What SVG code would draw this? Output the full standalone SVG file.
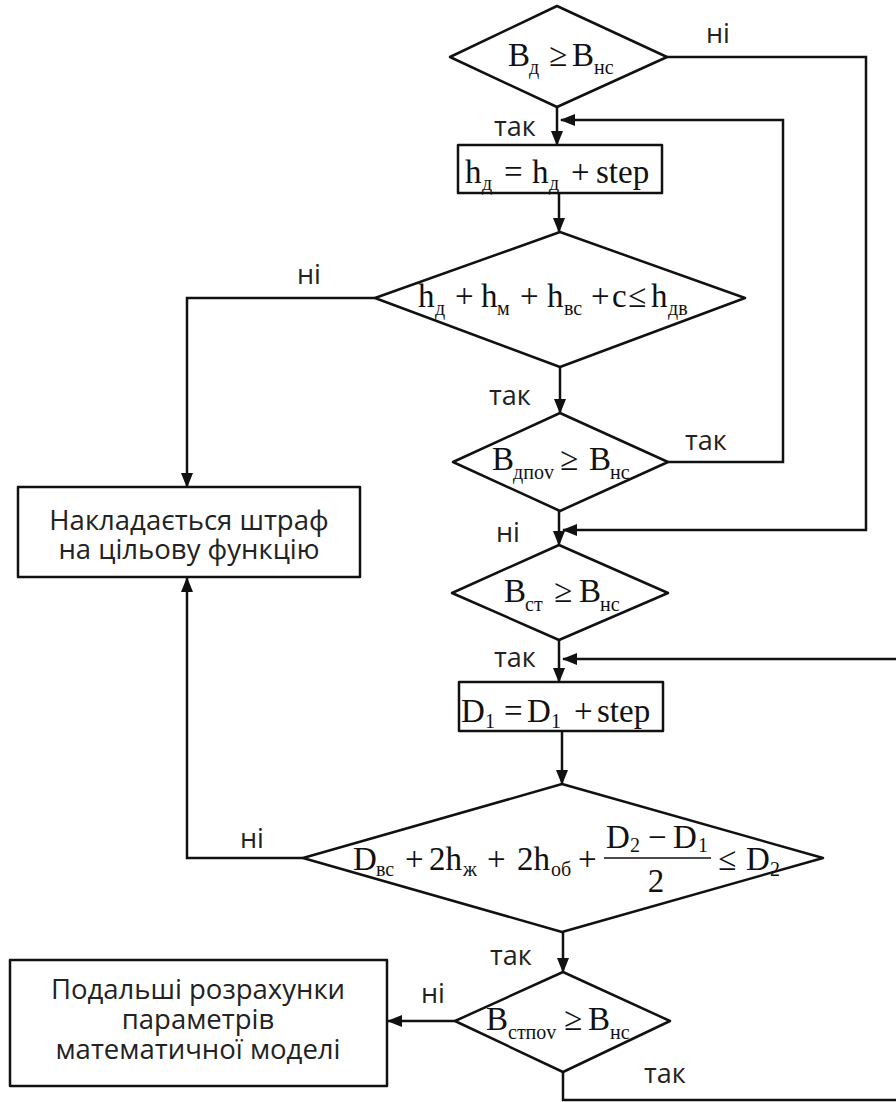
<svg xmlns="http://www.w3.org/2000/svg" width="896" height="1102" viewBox="0 0 896 1102">
<defs>
<style>
.shape{fill:#fff;stroke:#111;stroke-width:2.5;stroke-linejoin:round}
.conn{fill:none;stroke:#111;stroke-width:2.5}
.f{font-family:"Liberation Serif","Times New Roman",serif;font-size:33px;fill:#111}
.s{font-family:"Liberation Serif","Times New Roman",serif;font-size:20px;fill:#111}
.lbl{font-family:"Open Sans","Noto Sans",sans-serif;font-size:27px;fill:#222}
.box{font-family:"Open Sans","Noto Sans",sans-serif;font-size:27.5px;fill:#222;text-anchor:middle}
</style>
<marker id="arr" markerUnits="userSpaceOnUse" markerWidth="15" markerHeight="12" viewBox="0 0 15 12" refX="14" refY="6" orient="auto">
<path d="M0,0 L15,6 L0,12 Z" fill="#111"/>
</marker>
</defs>

<g id="connectors">
<path class="conn" d="M667,57 H866 V530 H563" marker-end="url(#arr)"/>
<path class="conn" d="M557,107 V145" marker-end="url(#arr)"/>
<path class="conn" d="M668,462 H783 V120 H561" marker-end="url(#arr)"/>
<path class="conn" d="M559,193 V232" marker-end="url(#arr)"/>
<path class="conn" d="M375,298 H187 V487" marker-end="url(#arr)"/>
<path class="conn" d="M560,367 V413" marker-end="url(#arr)"/>
<path class="conn" d="M559,511 V545" marker-end="url(#arr)"/>
<path class="conn" d="M559,640 V682" marker-end="url(#arr)"/>
<path class="conn" d="M563,1072 V1100 H902 V659 H563" marker-end="url(#arr)"/>
<path class="conn" d="M562,731 V784" marker-end="url(#arr)"/>
<path class="conn" d="M303,858 H187 V578" marker-end="url(#arr)"/>
<path class="conn" d="M563,932 V972" marker-end="url(#arr)"/>
<path class="conn" d="M455,1021 H388" marker-end="url(#arr)"/>
</g>

<g id="labels">
<text class="lbl" x="706" y="43">ні</text>
<text class="lbl" x="494" y="136">так</text>
<text class="lbl" x="297" y="284">ні</text>
<text class="lbl" x="489" y="405">так</text>
<text class="lbl" x="685" y="450">так</text>
<text class="lbl" x="496" y="542">ні</text>
<text class="lbl" x="494" y="667">так</text>
<text class="lbl" x="240" y="848">ні</text>
<text class="lbl" x="490" y="965">так</text>
<text class="lbl" x="421" y="1003">ні</text>
<text class="lbl" x="644" y="1083">так</text>
</g>

<g id="node-bd">
<polygon class="shape" points="557,6 667,57 557,107 450,57"/>
<text class="f" x="508" y="66">B</text><text class="s" x="529" y="74">д</text>
<text class="f" x="549" y="66">≥</text>
<text class="f" x="572" y="66">B</text><text class="s" x="594" y="74">нс</text>
</g>

<g id="node-hd">
<rect class="shape" x="458" y="145" width="204" height="48"/>
<text class="f" x="465" y="183">h</text><text class="s" x="482" y="190">д</text>
<text class="f" x="504" y="183">=</text>
<text class="f" x="532" y="183">h</text><text class="s" x="549" y="190">д</text>
<text class="f" x="571" y="183">+</text>
<text class="f" x="596" y="183">step</text>
</g>

<g id="node-hsum">
<polygon class="shape" points="560,232 745,298 560,367 375,298"/>
<text class="f" x="418" y="307">h</text><text class="s" x="435" y="315">д</text>
<text class="f" x="455" y="307">+</text>
<text class="f" x="481" y="307">h</text><text class="s" x="497" y="315">м</text>
<text class="f" x="520" y="307">+</text>
<text class="f" x="547" y="307">h</text><text class="s" x="564" y="315">вс</text>
<text class="f" x="591" y="307">+</text>
<text class="f" x="612" y="307">c</text>
<text class="f" x="628" y="307">≤</text>
<text class="f" x="651" y="307">h</text><text class="s" x="668" y="315">дв</text>
</g>

<g id="node-bdpov">
<polygon class="shape" points="560,413 668,462 560,511 453,462"/>
<text class="f" x="492" y="470">B</text><text class="s" x="513" y="479">дпоv</text>
<text class="f" x="560" y="470">≥</text>
<text class="f" x="589" y="470">B</text><text class="s" x="610" y="479">нс</text>
</g>

<g id="node-penalty">
<rect class="shape" x="18" y="487" width="342" height="90"/>
<text class="box" x="189" y="530">Накладається штраф</text>
<text class="box" x="189" y="559">на цільову функцію</text>
</g>

<g id="node-bst">
<polygon class="shape" points="559,545 668,593 559,640 452,593"/>
<text class="f" x="504" y="602">B</text><text class="s" x="525" y="611">ст</text>
<text class="f" x="554" y="602">≥</text>
<text class="f" x="579" y="602">B</text><text class="s" x="600" y="611">нс</text>
</g>

<g id="node-d1">
<rect class="shape" x="459" y="682" width="204" height="49"/>
<text class="f" x="461" y="722">D</text><text class="s" x="485" y="728">1</text>
<text class="f" x="504" y="722">=</text>
<text class="f" x="527" y="722">D</text><text class="s" x="551" y="728">1</text>
<text class="f" x="574" y="722">+</text>
<text class="f" x="597" y="722">step</text>
</g>

<g id="node-dsum">
<polygon class="shape" points="562,784 823,858 562,932 303,858"/>
<text class="f" x="353" y="870">D</text><text class="s" x="376" y="876">вс</text>
<text class="f" x="405" y="870">+</text>
<text class="f" x="429" y="870">2h</text><text class="s" x="463" y="876">ж</text>
<text class="f" x="487" y="870">+</text>
<text class="f" x="517" y="870">2h</text><text class="s" x="551" y="876">об</text>
<text class="f" x="578" y="870">+</text>
<text class="f" x="606" y="848">D</text><text class="s" x="630" y="852">2</text>
<text class="f" x="648" y="848">−</text>
<text class="f" x="673" y="848">D</text><text class="s" x="698" y="852">1</text>
<line x1="604" y1="858" x2="711" y2="858" stroke="#111" stroke-width="1.6"/>
<text class="f" x="656" y="892" text-anchor="middle">2</text>
<text class="f" x="718" y="870">≤</text>
<text class="f" x="746" y="870">D</text><text class="s" x="770" y="876">2</text>
</g>

<g id="node-bstpov">
<polygon class="shape" points="563,972 670,1021 563,1072 455,1021"/>
<text class="f" x="486" y="1030">B</text><text class="s" x="508" y="1039">стпоv</text>
<text class="f" x="564" y="1030">≥</text>
<text class="f" x="588" y="1030">B</text><text class="s" x="610" y="1039">нс</text>
</g>

<g id="node-further">
<rect class="shape" x="10" y="960" width="377" height="126"/>
<text class="box" x="198" y="999">Подальші розрахунки</text>
<text class="box" x="198" y="1029">параметрів</text>
<text class="box" x="198" y="1059">математичної моделі</text>
</g>
</svg>
